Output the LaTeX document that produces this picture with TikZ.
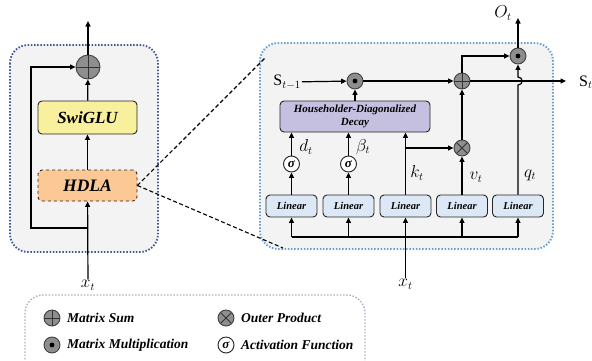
\documentclass[tikz,border=0pt]{standalone}
\usepackage{fontspec}
\setmainfont{Liberation Serif}
\usetikzlibrary{arrows.meta,calc}
\definecolor{panelfill}{HTML}{F3F3F3}
\definecolor{leftborder}{HTML}{3E5896}
\definecolor{rightborder}{HTML}{6A9FD2}
\definecolor{legborder}{HTML}{B2AEC6}
\definecolor{swigluc}{HTML}{F8F09C}
\definecolor{hdlac}{HTML}{FBC896}
\definecolor{hddc}{HTML}{C6C0E0}
\definecolor{linc}{HTML}{DCE8F5}
\definecolor{opgray}{HTML}{8E8E8E}
\tikzset{
  arr/.style={line width=1.2pt,-{Triangle[length=5.5pt,width=5pt]}},
  wire/.style={line width=1.2pt},
  panel/.style={line width=1.9pt, dash pattern=on 1.5pt off 1.7pt, fill=panelfill, rounded corners=18pt},
  blk/.style={draw=black!85, line width=0.9pt, rounded corners=4pt, font=\bfseries\itshape, align=center, inner sep=1pt},
  linbox/.style={blk, fill=linc, minimum width=51pt, minimum height=22pt, font=\fontsize{10.5}{12}\selectfont\bfseries\itshape},
  opbase/.style={circle, draw=black!75, line width=0.9pt, fill=opgray, inner sep=0pt, minimum size=16pt},
  sumop/.style={opbase, path picture={\draw[line width=0.9pt,draw=black!80] (path picture bounding box.north) -- (path picture bounding box.south) (path picture bounding box.west) -- (path picture bounding box.east);}},
  dotop/.style={opbase, path picture={\fill[fill=black] (path picture bounding box.center) circle (2.4pt);}},
  crossop/.style={opbase, path picture={\draw[line width=0.9pt,draw=black!80] (path picture bounding box.north west) -- (path picture bounding box.south east) (path picture bounding box.north east) -- (path picture bounding box.south west);}},
  sigop/.style={circle, draw=black!85, line width=0.9pt, fill=white, inner sep=0pt, minimum size=16pt, font=\fontsize{13}{13}\selectfont\bfseries\itshape},
  mlabel/.style={font=\fontsize{16}{16}\selectfont, inner sep=1pt},
  legtext/.style={anchor=west, font=\fontsize{13.5}{14}\selectfont\bfseries\itshape, inner sep=0pt},
  zoomline/.style={dashed, line width=1.1pt, dash pattern=on 4pt off 2.5pt}
}
\begin{document}
\begin{tikzpicture}[x=1pt,y=-1pt]
\useasboundingbox (0,0) rectangle (592,360);

% ---------- panels ----------
\draw[panel, draw=leftborder] (10,45) rectangle (158,252);
\draw[panel, draw=rightborder] (260,43) rectangle (553,249);
\draw[panel, draw=legborder, fill=white, line width=1.4pt] (25,295) rectangle (365,385);

% ---------- left: one layer ----------
\node[sumop, minimum size=24pt] (add) at (88,67) {};
\node[blk, fill=swigluc, minimum width=99pt, minimum height=33pt, font=\fontsize{17}{18}\selectfont\bfseries\itshape] (swiglu) at (87.5,117.5) {SwiGLU};
\node[blk, fill=hdlac, dashed, minimum width=99pt, minimum height=31pt, font=\fontsize{17.5}{18}\selectfont\bfseries\itshape] (hdla) at (87.5,185.5) {HDLA};
\node[mlabel] (xl) at (88,285) {$x_t$};
\coordinate (outl) at (88,21);
\coordinate (brl) at (88,228);
\coordinate (cornl) at (31,228);

\draw[arr] (xl) -- (hdla);
\draw[arr] (hdla) -- (swiglu);
\draw[arr] (swiglu) -- (add);
\draw[arr] (add) -- (outl);
\draw[arr] (brl) -- (cornl) |- (add);

% ---------- zoom lines ----------
\coordinate (zt) at (266,57);
\coordinate (zb) at (283,248);
\draw[zoomline] (hdla.east) -- (zt);
\draw[zoomline] (hdla.east) -- (zb);

% ---------- right: HDLA detail ----------
\node[mlabel, anchor=east] (sprev) at (302,82) {$\mathrm{S}_{t-1}$};
\node[dotop] (mul1) at (355,81) {};
\node[sumop] (add2) at (462,81) {};
\node[dotop] (mul2) at (518,56) {};
\coordinate (send) at (566,81);
\node[mlabel, anchor=west] (snext) at (578,82) {$\mathrm{S}_t$};
\node[mlabel] (ot) at (503,13) {$O_t$};
\coordinate (otend) at (518,18);

\node[blk, fill=hddc, minimum width=150pt, minimum height=31pt, font=\fontsize{11}{13}\selectfont\bfseries\itshape] (hdd) at (355,116.5) {Householder-Diagonalized\\Decay};

\node[linbox] (lin1) at (291.5,206) {Linear};
\node[linbox] (lin2) at (348.5,206) {Linear};
\node[linbox] (lin3) at (405.5,206) {Linear};
\node[linbox] (lin4) at (462,206) {Linear};
\node[linbox] (lin5) at (518,206) {Linear};

\node[sigop] (sig1) at (291.5,164) {σ};
\node[sigop] (sig2) at (348.5,164) {σ};
\node[crossop] (outer) at (462,148) {};

\node[mlabel] (dlab) at (306,147) {$d_t$};
\node[mlabel] (blab) at (363,147) {$\beta_t$};
\node[mlabel] (klab) at (417,173) {$k_t$};
\node[mlabel] (vlab) at (476,177) {$v_t$};
\node[mlabel] (qlab) at (530,175) {$q_t$};

% state path
\draw[arr] (sprev) -- (mul1);
\draw[arr] (mul1) -- (add2);
\draw[arr] (add2) -- (send);
\draw[arr] (hdd) -- (mul1);
\draw[arr] (add2) |- (mul2);
\draw[arr] (mul2) -- (otend);

% gates into the decay block
\draw[arr] (lin1) -- (sig1);
\draw[arr] (sig1) -- (sig1 |- hdd.south);
\draw[arr] (lin2) -- (sig2);
\draw[arr] (sig2) -- (sig2 |- hdd.south);
\draw[arr] (lin3) -- (lin3 |- hdd.south);
\coordinate (kbr) at (lin3 |- outer);
\draw[arr] (kbr) -- (outer);
\draw[arr] (lin4) -- (outer);
\draw[arr] (outer) -- (add2);

% query with a hop over the state line
\draw[arr] (lin5) -- (518,85) .. controls (523.5,85) and (523.5,77) .. (518,77) -- (mul2);

% input bus
\node[mlabel] (xr) at (405.5,284) {$x_t$};
\coordinate (bus) at (405.5,237);
\draw[arr] (xr) -- (lin3);
\draw[wire] (bus -| lin1) -- (bus -| lin5);
\draw[arr] (bus -| lin1) -- (lin1);
\draw[arr] (bus -| lin2) -- (lin2);
\draw[arr] (bus -| lin4) -- (lin4);
\draw[arr] (bus -| lin5) -- (lin5);

% ---------- legend ----------
\node[sumop] (lg1) at (52,318) {};
\node[legtext] (lt1) at (67,318) {Matrix Sum};
\node[crossop] (lg2) at (226,318) {};
\node[legtext] (lt2) at (241,318) {Outer Product};
\node[dotop] (lg3) at (52,345) {};
\node[legtext] (lt3) at (67,345) {Matrix Multiplication};
\node[sigop] (lg4) at (226,345) {σ};
\node[legtext] (lt4) at (241,345) {Activation Function};
\end{tikzpicture}
\end{document}
